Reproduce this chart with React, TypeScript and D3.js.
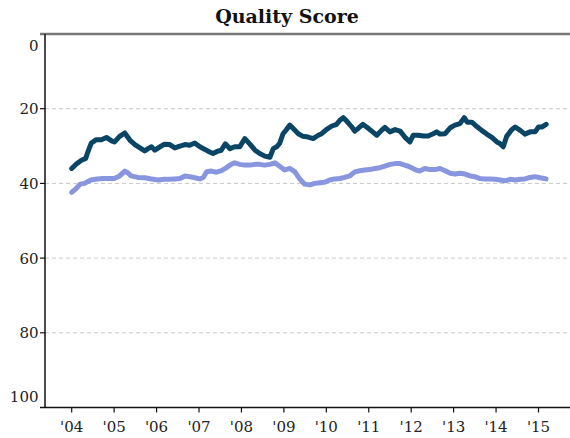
import React from "react";
import * as d3 from "d3";

const yearTicks = [2004, 2005, 2006, 2007, 2008, 2009, 2010, 2011, 2012, 2013, 2014, 2015];
const yearLabels = ["'04", "'05", "'06", "'07", "'08", "'09", "'10", "'11", "'12", "'13", "'14", "'15"];
const yTicks = [0, 20, 40, 60, 80, 100];

const darkSeries: [number, number][] = [
  [2004.0, 36.0], [2004.11, 34.8], [2004.23, 33.8], [2004.33, 33.3], [2004.38, 31.6], [2004.46, 29.2],
  [2004.58, 28.3], [2004.7, 28.3], [2004.82, 27.7], [2004.94, 28.6], [2005.01, 28.9], [2005.13, 27.4],
  [2005.25, 26.5], [2005.37, 28.4], [2005.49, 29.6], [2005.6, 30.4], [2005.72, 31.3], [2005.8, 30.7],
  [2005.88, 30.2], [2005.96, 31.1], [2006.08, 30.2], [2006.19, 29.5], [2006.31, 29.6], [2006.43, 30.5],
  [2006.55, 30.0], [2006.67, 29.6], [2006.78, 29.8], [2006.9, 29.2], [2007.02, 30.2], [2007.14, 30.9],
  [2007.25, 31.6], [2007.33, 32.0], [2007.45, 31.3], [2007.52, 31.2], [2007.62, 29.4], [2007.73, 30.7],
  [2007.84, 30.2], [2007.96, 30.2], [2008.08, 28.0], [2008.2, 29.5], [2008.32, 31.1], [2008.43, 32.0],
  [2008.55, 32.7], [2008.67, 33.0], [2008.75, 30.7], [2008.83, 30.2], [2008.9, 29.3], [2008.98, 26.7],
  [2009.06, 25.6], [2009.14, 24.4], [2009.22, 25.3], [2009.34, 26.7], [2009.45, 27.4], [2009.57, 27.6],
  [2009.69, 28.0], [2009.81, 27.1], [2009.89, 26.7], [2010.0, 25.6], [2010.12, 24.7], [2010.24, 24.2],
  [2010.32, 23.1], [2010.4, 22.4], [2010.48, 23.3], [2010.6, 24.9], [2010.67, 26.0], [2010.75, 25.3],
  [2010.86, 24.2], [2010.95, 24.9], [2011.07, 26.0], [2011.19, 27.1], [2011.3, 25.8], [2011.38, 25.0],
  [2011.5, 26.2], [2011.62, 25.6], [2011.74, 26.0], [2011.85, 27.6], [2011.97, 28.9], [2012.05, 27.1],
  [2012.17, 27.1], [2012.29, 27.3], [2012.4, 27.3], [2012.52, 26.7], [2012.6, 26.2], [2012.68, 26.8],
  [2012.8, 26.7], [2012.92, 25.1], [2013.03, 24.4], [2013.15, 24.0], [2013.25, 22.4], [2013.32, 23.6],
  [2013.43, 23.6], [2013.54, 24.7], [2013.66, 25.8], [2013.78, 26.8], [2013.9, 27.7], [2014.02, 28.9],
  [2014.09, 29.3], [2014.17, 30.2], [2014.25, 27.4], [2014.37, 25.6], [2014.45, 24.9], [2014.57, 25.8],
  [2014.68, 26.8], [2014.8, 26.2], [2014.92, 26.2], [2015.0, 24.9], [2015.08, 24.9], [2015.18, 24.2],
];

const lightSeries: [number, number][] = [
  [2004.0, 42.4], [2004.11, 41.3], [2004.2, 40.2], [2004.3, 40.0], [2004.45, 39.1], [2004.6, 38.8],
  [2004.75, 38.7], [2004.9, 38.7], [2005.0, 38.7], [2005.13, 38.0], [2005.25, 36.7], [2005.33, 37.2],
  [2005.4, 38.0], [2005.56, 38.4], [2005.72, 38.5], [2005.88, 38.8], [2006.04, 39.1], [2006.19, 38.9],
  [2006.31, 38.9], [2006.43, 38.8], [2006.55, 38.7], [2006.67, 38.0], [2006.78, 38.2], [2006.9, 38.5],
  [2007.02, 38.8], [2007.1, 38.4], [2007.18, 36.9], [2007.29, 36.7], [2007.41, 37.0], [2007.53, 36.6],
  [2007.62, 36.0], [2007.73, 35.1], [2007.84, 34.5], [2007.96, 34.9], [2008.08, 35.1], [2008.2, 35.1],
  [2008.32, 34.9], [2008.43, 34.9], [2008.55, 35.1], [2008.67, 34.9], [2008.79, 34.5], [2008.9, 35.4],
  [2009.02, 36.4], [2009.14, 36.0], [2009.26, 36.9], [2009.38, 38.9], [2009.49, 40.2], [2009.61, 40.4],
  [2009.73, 40.0], [2009.85, 39.8], [2009.96, 39.7], [2010.08, 39.1], [2010.2, 38.8], [2010.32, 38.7],
  [2010.43, 38.4], [2010.55, 38.0], [2010.67, 36.9], [2010.79, 36.6], [2010.9, 36.4], [2011.02, 36.3],
  [2011.14, 36.0], [2011.26, 35.8], [2011.38, 35.4], [2011.5, 34.9], [2011.62, 34.7], [2011.74, 34.7],
  [2011.85, 35.1], [2011.97, 35.6], [2012.09, 36.3], [2012.2, 36.7], [2012.32, 36.0], [2012.44, 36.3],
  [2012.56, 36.3], [2012.68, 36.0], [2012.8, 36.6], [2012.92, 37.3], [2013.03, 37.5], [2013.15, 37.3],
  [2013.27, 37.5], [2013.39, 38.0], [2013.5, 38.2], [2013.62, 38.7], [2013.74, 38.8], [2013.86, 38.8],
  [2013.98, 38.9], [2014.09, 39.1], [2014.21, 39.3], [2014.33, 38.9], [2014.45, 39.1], [2014.57, 38.9],
  [2014.68, 38.8], [2014.8, 38.4], [2014.92, 38.2], [2015.04, 38.5], [2015.18, 38.8],
];

const W = 570;
const H = 438;
const left = 45;
const right = 570;
const top = 34;
const bottom = 407.5;
const FONT = "'DejaVu Serif', serif";

export default function App() {
  const x = d3.scaleLinear().domain([2004, 2015]).range([71.7, 538.5]);
  const y = d3.scaleLinear().domain([0, 100]).range([top, bottom]);
  const line = d3
    .line<[number, number]>()
    .x((d) => x(d[0]))
    .y((d) => y(d[1]))
    .curve(d3.curveLinear);

  const labelOffset = (v: number) => (v === 0 ? 11.5 : v === 100 ? -10.5 : 0);

  return (
    <svg
      width={W}
      height={H}
      style={{ position: "absolute", left: 0, top: 0, background: "#fff" }}
      fontFamily={FONT}
    >
      <text x={287} y={23} textAnchor="middle" fontSize={19} fontWeight="bold" fill="#111">
        Quality Score
      </text>

      {yTicks
        .filter((v) => v !== 0 && v !== 100)
        .map((v) => (
          <line
            key={"g" + v}
            x1={left}
            x2={right}
            y1={y(v)}
            y2={y(v)}
            stroke="#c8c8c8"
            strokeWidth={1}
            strokeDasharray="4,3"
          />
        ))}

      <line x1={40} x2={right} y1={top} y2={top} stroke="#777" strokeWidth={2.5} />
      <line x1={left} x2={left} y1={top} y2={bottom} stroke="#111" strokeWidth={1.5} />
      <line x1={40} x2={right} y1={bottom} y2={bottom} stroke="#111" strokeWidth={1.5} />

      {yTicks.map((v) => (
        <g key={"y" + v}>
          {v !== 0 && v !== 100 && (
            <line x1={40} x2={left} y1={y(v)} y2={y(v)} stroke="#111" strokeWidth={1.2} />
          )}
          <text
            x={38.5}
            y={y(v) + labelOffset(v)}
            dy="0.36em"
            textAnchor="end"
            fontSize={15}
            fill="#222"
          >
            {v}
          </text>
        </g>
      ))}

      {yearTicks.map((yr, i) => (
        <g key={"x" + yr}>
          <line x1={x(yr)} x2={x(yr)} y1={bottom} y2={bottom + 5} stroke="#111" strokeWidth={1.2} />
          <text x={x(yr)} y={432} textAnchor="middle" fontSize={15} fill="#222">
            {yearLabels[i]}
          </text>
        </g>
      ))}

      <path
        d={line(lightSeries) || ""}
        fill="none"
        stroke="#8896e0"
        strokeWidth={5}
        strokeLinejoin="round"
        strokeLinecap="round"
      />
      <path
        d={line(darkSeries) || ""}
        fill="none"
        stroke="#0b4566"
        strokeWidth={5}
        strokeLinejoin="round"
        strokeLinecap="round"
      />
    </svg>
  );
}
